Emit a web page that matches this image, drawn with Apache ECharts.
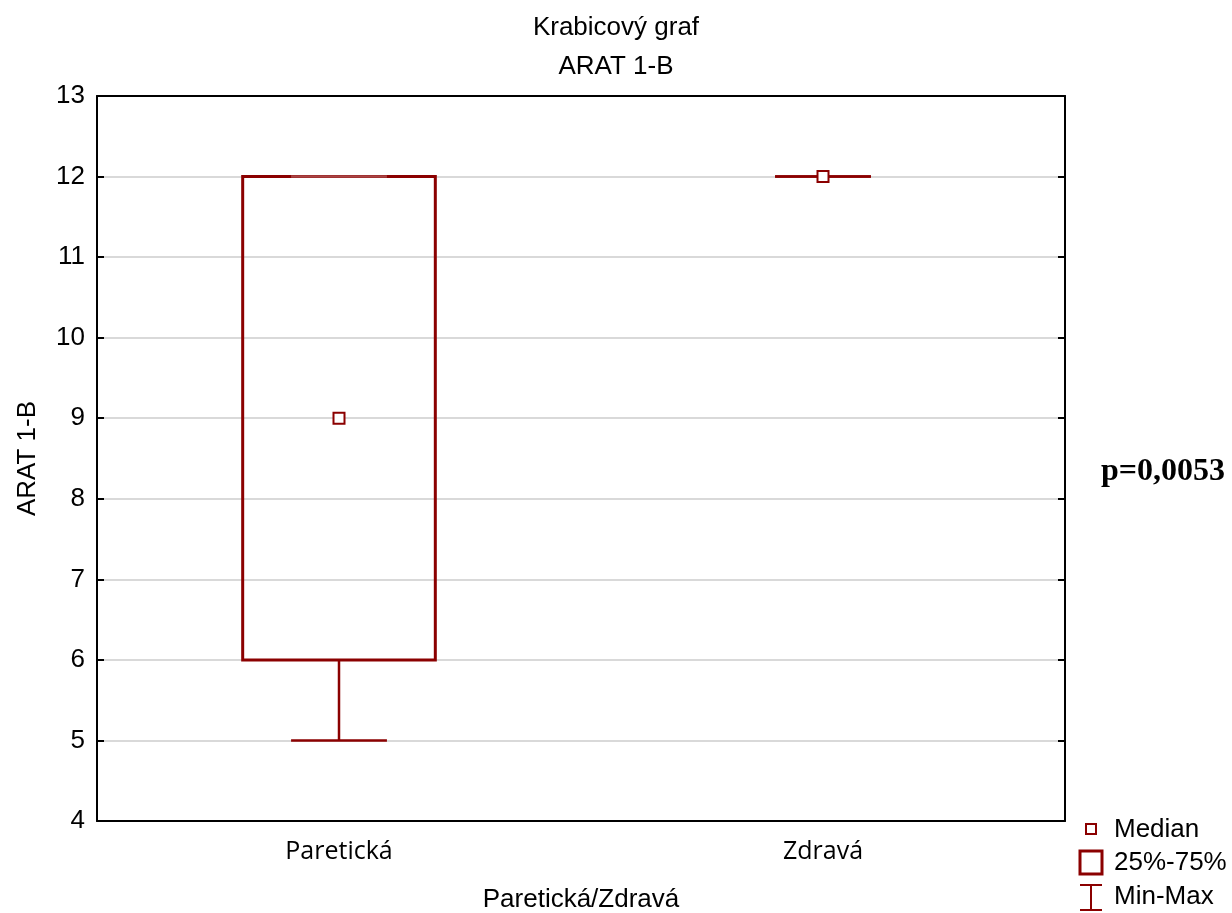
<!DOCTYPE html>
<html><head><meta charset="utf-8">
<script src="https://cdn.jsdelivr.net/npm/echarts@6/dist/echarts.min.js"></script>
<style>html,body{margin:0;padding:0;background:#fff}#c{width:1232px;height:913px}</style>
</head><body><div id="c"></div>
<script>
var categories = ['Paretická', 'Zdravá'];
var mins = [5, 12];
var q1s = [6, 12];
var medians = [9, 12];
var q3s = [12, 12];
var maxs = [12, 12];
var yTicks = [4, 5, 6, 7, 8, 9, 10, 11, 12, 13];

var RED = '#8b0000';
var data = categories.map(function (c, i) { return [i, mins[i], q1s[i], medians[i], q3s[i], maxs[i]]; });

var chart = echarts.init(document.getElementById('c'));
var font = '"Liberation Sans", Arial, sans-serif';
chart.setOption({
  animation: false,
  backgroundColor: '#fff',
  title: {
    text: 'Krabicový graf\nARAT 1-B', left: 'center', top: 3,
    textStyle: { fontFamily: font, fontSize: 26, fontWeight: 'normal', color: '#000', lineHeight: 39 }
  },
  grid: { left: 97, right: 167, top: 96, bottom: 92, containLabel: false, outerBoundsMode: 'none' },
  xAxis: [{
    type: 'category', data: categories, position: 'bottom',
    name: 'Paretická/Zdravá', nameLocation: 'middle', nameGap: 66,
    nameTextStyle: { fontFamily: font, fontSize: 26, color: '#000' },
    axisLine: { lineStyle: { color: '#000', width: 2 } },
    axisTick: { inside: true, length: 7, alignWithLabel: true, interval: 0, lineStyle: { color: '#000', width: 2 } },
    axisLabel: { fontFamily: '"Open Sans", "Liberation Sans", sans-serif', fontSize: 25, color: '#000', margin: 18 },
    splitLine: { show: false }
  }, {
    type: 'category', data: categories, position: 'top',
    axisLine: { lineStyle: { color: '#000', width: 2 } },
    axisTick: { inside: true, length: 7, alignWithLabel: true, interval: 0, lineStyle: { color: '#000', width: 2 } },
    axisLabel: { show: false }
  }],
  yAxis: [{
    type: 'value', min: yTicks[0], max: yTicks[yTicks.length - 1], interval: 1, position: 'left',
    name: 'ARAT 1-B', nameLocation: 'middle', nameGap: 56,
    nameTextStyle: { fontFamily: font, fontSize: 26, color: '#000' },
    axisLine: { show: true, lineStyle: { color: '#000', width: 2 } },
    axisTick: { show: true, inside: true, length: 7, lineStyle: { color: '#000', width: 2 } },
    axisLabel: { fontFamily: font, fontSize: 26, color: '#000', margin: 12 },
    splitLine: { show: true, lineStyle: { color: '#d9d9d9', width: 2 } }
  }, {
    type: 'value', min: yTicks[0], max: yTicks[yTicks.length - 1], interval: 1, position: 'right',
    axisLine: { show: true, lineStyle: { color: '#000', width: 2 } },
    axisTick: { show: true, inside: true, length: 7, lineStyle: { color: '#000', width: 2 } },
    axisLabel: { show: false },
    splitLine: { show: false }
  }],
  series: [{
    type: 'custom',
    data: data,
    encode: { x: 0, y: [1, 2, 3, 4, 5] },
    renderItem: function (params, api) {
      var i = api.value(0);
      var bw = api.size([1, 0])[0];
      var boxW = bw * 0.398, capW = bw * 0.198;
      var pMin = api.coord([i, api.value(1)]);
      var pQ1 = api.coord([i, api.value(2)]);
      var pMed = api.coord([i, api.value(3)]);
      var pQ3 = api.coord([i, api.value(4)]);
      var pMax = api.coord([i, api.value(5)]);
      var x = pMed[0];
      var ls = { stroke: RED, lineWidth: 2.5, fill: null };
      var children = [];
      children.push({ type: 'line', shape: { x1: x, y1: pQ1[1], x2: x, y2: pMin[1] }, style: ls });
      children.push({ type: 'line', shape: { x1: x, y1: pQ3[1], x2: x, y2: pMax[1] }, style: ls });
      var hasBox = Math.abs(pQ3[1] - pQ1[1]) > 0.5;
      if (hasBox) {
        children.push({ type: 'rect', shape: { x: x - boxW / 2, y: pQ3[1], width: boxW, height: pQ1[1] - pQ3[1] }, style: { stroke: RED, lineWidth: 3, fill: null } });
      }
      children.push({ type: 'line', shape: { x1: x - capW / 2, y1: pMin[1], x2: x + capW / 2, y2: pMin[1] }, style: ls });
      children.push({ type: 'line', shape: { x1: x - capW / 2, y1: pMax[1], x2: x + capW / 2, y2: pMax[1] }, style: { stroke: hasBox && Math.abs(pQ3[1] - pMax[1]) < 0.5 ? '#a94444' : RED, lineWidth: 2.5 } });
      children.push({ type: 'rect', shape: { x: x - 5.5, y: pMed[1] - 5.5, width: 11, height: 11 }, style: { stroke: RED, lineWidth: 2, fill: '#fff' } });
      return { type: 'group', children: children };
    }
  }],
  graphic: [
    { type: 'text', left: 1101, top: 456, style: { text: 'p=0,0053', font: 'bold 32px "Liberation Serif", "Times New Roman", serif', fill: '#000' } },
    { type: 'rect', shape: { x: 1086, y: 824, width: 10, height: 10 }, style: { stroke: RED, lineWidth: 2, fill: '#fff' } },
    { type: 'text', x: 1114, y: 830, style: { text: 'Median', font: '26px "Liberation Sans", Arial, sans-serif', fill: '#000', textVerticalAlign: 'middle', verticalAlign: 'middle' } },
    { type: 'rect', shape: { x: 1080, y: 851, width: 22, height: 23 }, style: { stroke: RED, lineWidth: 3, fill: '#fff' } },
    { type: 'text', x: 1114, y: 863, style: { text: '25%-75%', font: '26px "Liberation Sans", Arial, sans-serif', fill: '#000', textVerticalAlign: 'middle', verticalAlign: 'middle' } },
    { type: 'line', shape: { x1: 1080, y1: 885, x2: 1102, y2: 885 }, style: { stroke: RED, lineWidth: 2 } },
    { type: 'line', shape: { x1: 1091, y1: 885, x2: 1091, y2: 910 }, style: { stroke: RED, lineWidth: 2 } },
    { type: 'line', shape: { x1: 1080, y1: 910, x2: 1102, y2: 910 }, style: { stroke: RED, lineWidth: 2 } },
    { type: 'text', x: 1114, y: 897, style: { text: 'Min-Max', font: '26px "Liberation Sans", Arial, sans-serif', fill: '#000', textVerticalAlign: 'middle', verticalAlign: 'middle' } }
  ]
});
</script>
</body></html>
